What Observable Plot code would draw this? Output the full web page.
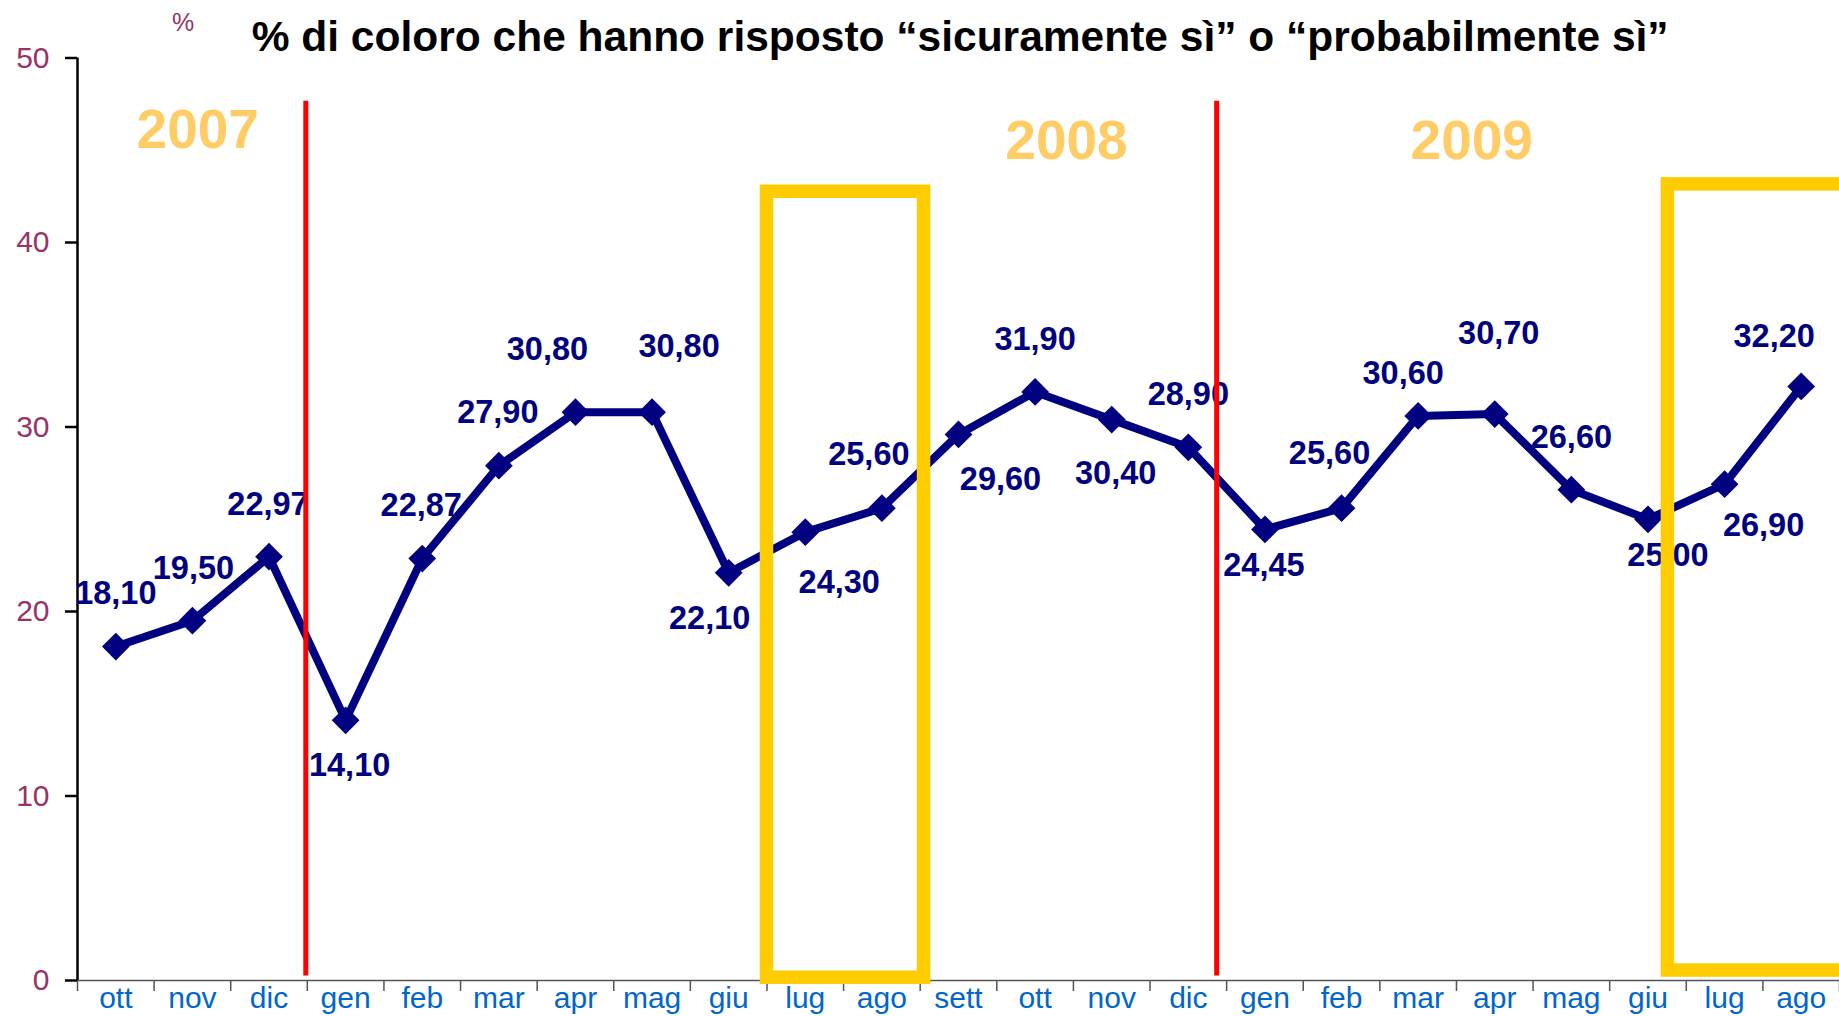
<!DOCTYPE html>
<html>
<head>
<meta charset="utf-8">
<script src="https://cdn.jsdelivr.net/npm/d3@7"></script>
<script src="https://cdn.jsdelivr.net/npm/@observablehq/plot@0.6"></script>
<style>
  html, body { margin: 0; padding: 0; background: #fff; }
  #wrap { position: relative; width: 1839px; height: 1016px; overflow: hidden; font-family: "Liberation Sans", Arial, sans-serif; }
  #title { position: absolute; left: 251.7px; top: 15.7px; font-size: 42.5px; line-height: 1; font-weight: bold; color: #000; white-space: nowrap; z-index: 2; }
  #pct { position: absolute; left: 172px; top: 9.5px; font-size: 25px; line-height: 1; color: #993366; white-space: nowrap; z-index: 2; }
  #chart { position: absolute; left: 0; top: 0; }
</style>
</head>
<body>
<div id="wrap">
  <div id="title">% di coloro che hanno risposto “sicuramente sì” o “probabilmente sì”</div>
  <div id="pct">%</div>
  <div id="chart"></div>
</div>
<script>
// ---- data ----
const months = ["ott","nov","dic","gen","feb","mar","apr","mag","giu","lug","ago","sett","ott","nov","dic","gen","feb","mar","apr","mag","giu","lug","ago"];
const values = [18.10,19.50,22.97,14.10,22.87,27.90,30.80,30.80,22.10,24.30,25.60,29.60,31.90,30.40,28.90,24.45,25.60,30.60,30.70,26.60,25.00,26.90,32.20];
const yTicks = [0,10,20,30,40,50];
const years = ["2007","2008","2009"];

// ---- annotation layout (in month-index / value units) ----
const yearAt = [1.07, 12.41, 17.7];
const yearLevel = [46.1, 45.5, 45.5];
const yearBreaks = [2.48, 14.37];
const highlightFrom = [8.5, 20.26];
const highlightTo = [10.55, 23.5];
const highlightBottom = [0.15, 0.54];
const highlightTop = [42.75, 43.15];

// ---- label nudges (pixels) ----
const labelDx = [0,1,-1,4,-1,-1,-28,27,-19,34,-13,42,0,4,0,-1,-12,-15,4,0,20,39,-27];
const labelDy = [-53,-52,-52,45,-53,-53,-63,-66,46,50,-54,45,-52,54,-53,36,-55,-42,-80,-52,36,41,-50];

const pts = values.map((v, i) => ({i, v, label: v.toFixed(2).replace(".", ",")}));
const boxes = highlightFrom.map((x1, k) => ({x1, x2: highlightTo[k], y1: highlightBottom[k], y2: highlightTop[k]}));
const yearRows = years.map((t, k) => ({t, x: yearAt[k], y: yearLevel[k]}));

const chart = Plot.plot({
  width: 1839,
  height: 1016,
  marginLeft: 77,
  marginRight: 0,
  marginTop: 57.5,
  marginBottom: 36,
  style: {fontFamily: "'Liberation Sans', Arial, sans-serif", background: "transparent"},
  x: {domain: [-0.5, 22.5], axis: null},
  y: {domain: [0, 50], axis: null},
  marks: [
    Plot.ruleY([0], {stroke: "#555", strokeWidth: 1.5}),
    Plot.axisX(d3.range(-0.5, 23, 1), {tickSize: 11, tickFormat: () => "", stroke: "#555", strokeWidth: 1.5, label: null}),
    Plot.axisX(d3.range(months.length), {tickSize: 0, tickPadding: 6, tickFormat: i => months[i], fontSize: 30, color: "#0066CC", label: null}),
    Plot.ruleX([-0.5], {y1: 0, y2: 50, stroke: "black", strokeWidth: 2.5}),
    Plot.axisY(yTicks, {tickSize: 12, tickFormat: () => "", stroke: "black", strokeWidth: 2.5, label: null}),
    Plot.axisY(yTicks, {tickSize: 0, tickPadding: 28, fontSize: 30, color: "#993366", label: null}),
    Plot.line(pts, {x: "i", y: "v", stroke: "#000080", strokeWidth: 8, strokeLinejoin: "miter"}),
    Plot.dot(pts, {x: "i", y: "v", symbol: "diamond2", r: 12.5, fill: "#000080"}),
    ...pts.map((p, i) => Plot.text([p], {x: "i", y: "v", text: "label", dx: labelDx[i], dy: labelDy[i], fill: "#000080", fontSize: 32.5, fontWeight: "bold"})),
    Plot.text(yearRows, {x: "x", y: "y", text: "t", fill: "#FFCC66", fontSize: 55, fontWeight: "bold"}),
    Plot.ruleX(yearBreaks, {y1: 0.25, y2: 47.66, stroke: "#FF0000", strokeWidth: 5}),
    Plot.rect(boxes, {x1: "x1", x2: "x2", y1: "y1", y2: "y2", fill: "none", stroke: "#FFCC00", strokeWidth: 13.5})
  ]
});
document.getElementById("chart").appendChild(chart);
</script>
</body>
</html>
